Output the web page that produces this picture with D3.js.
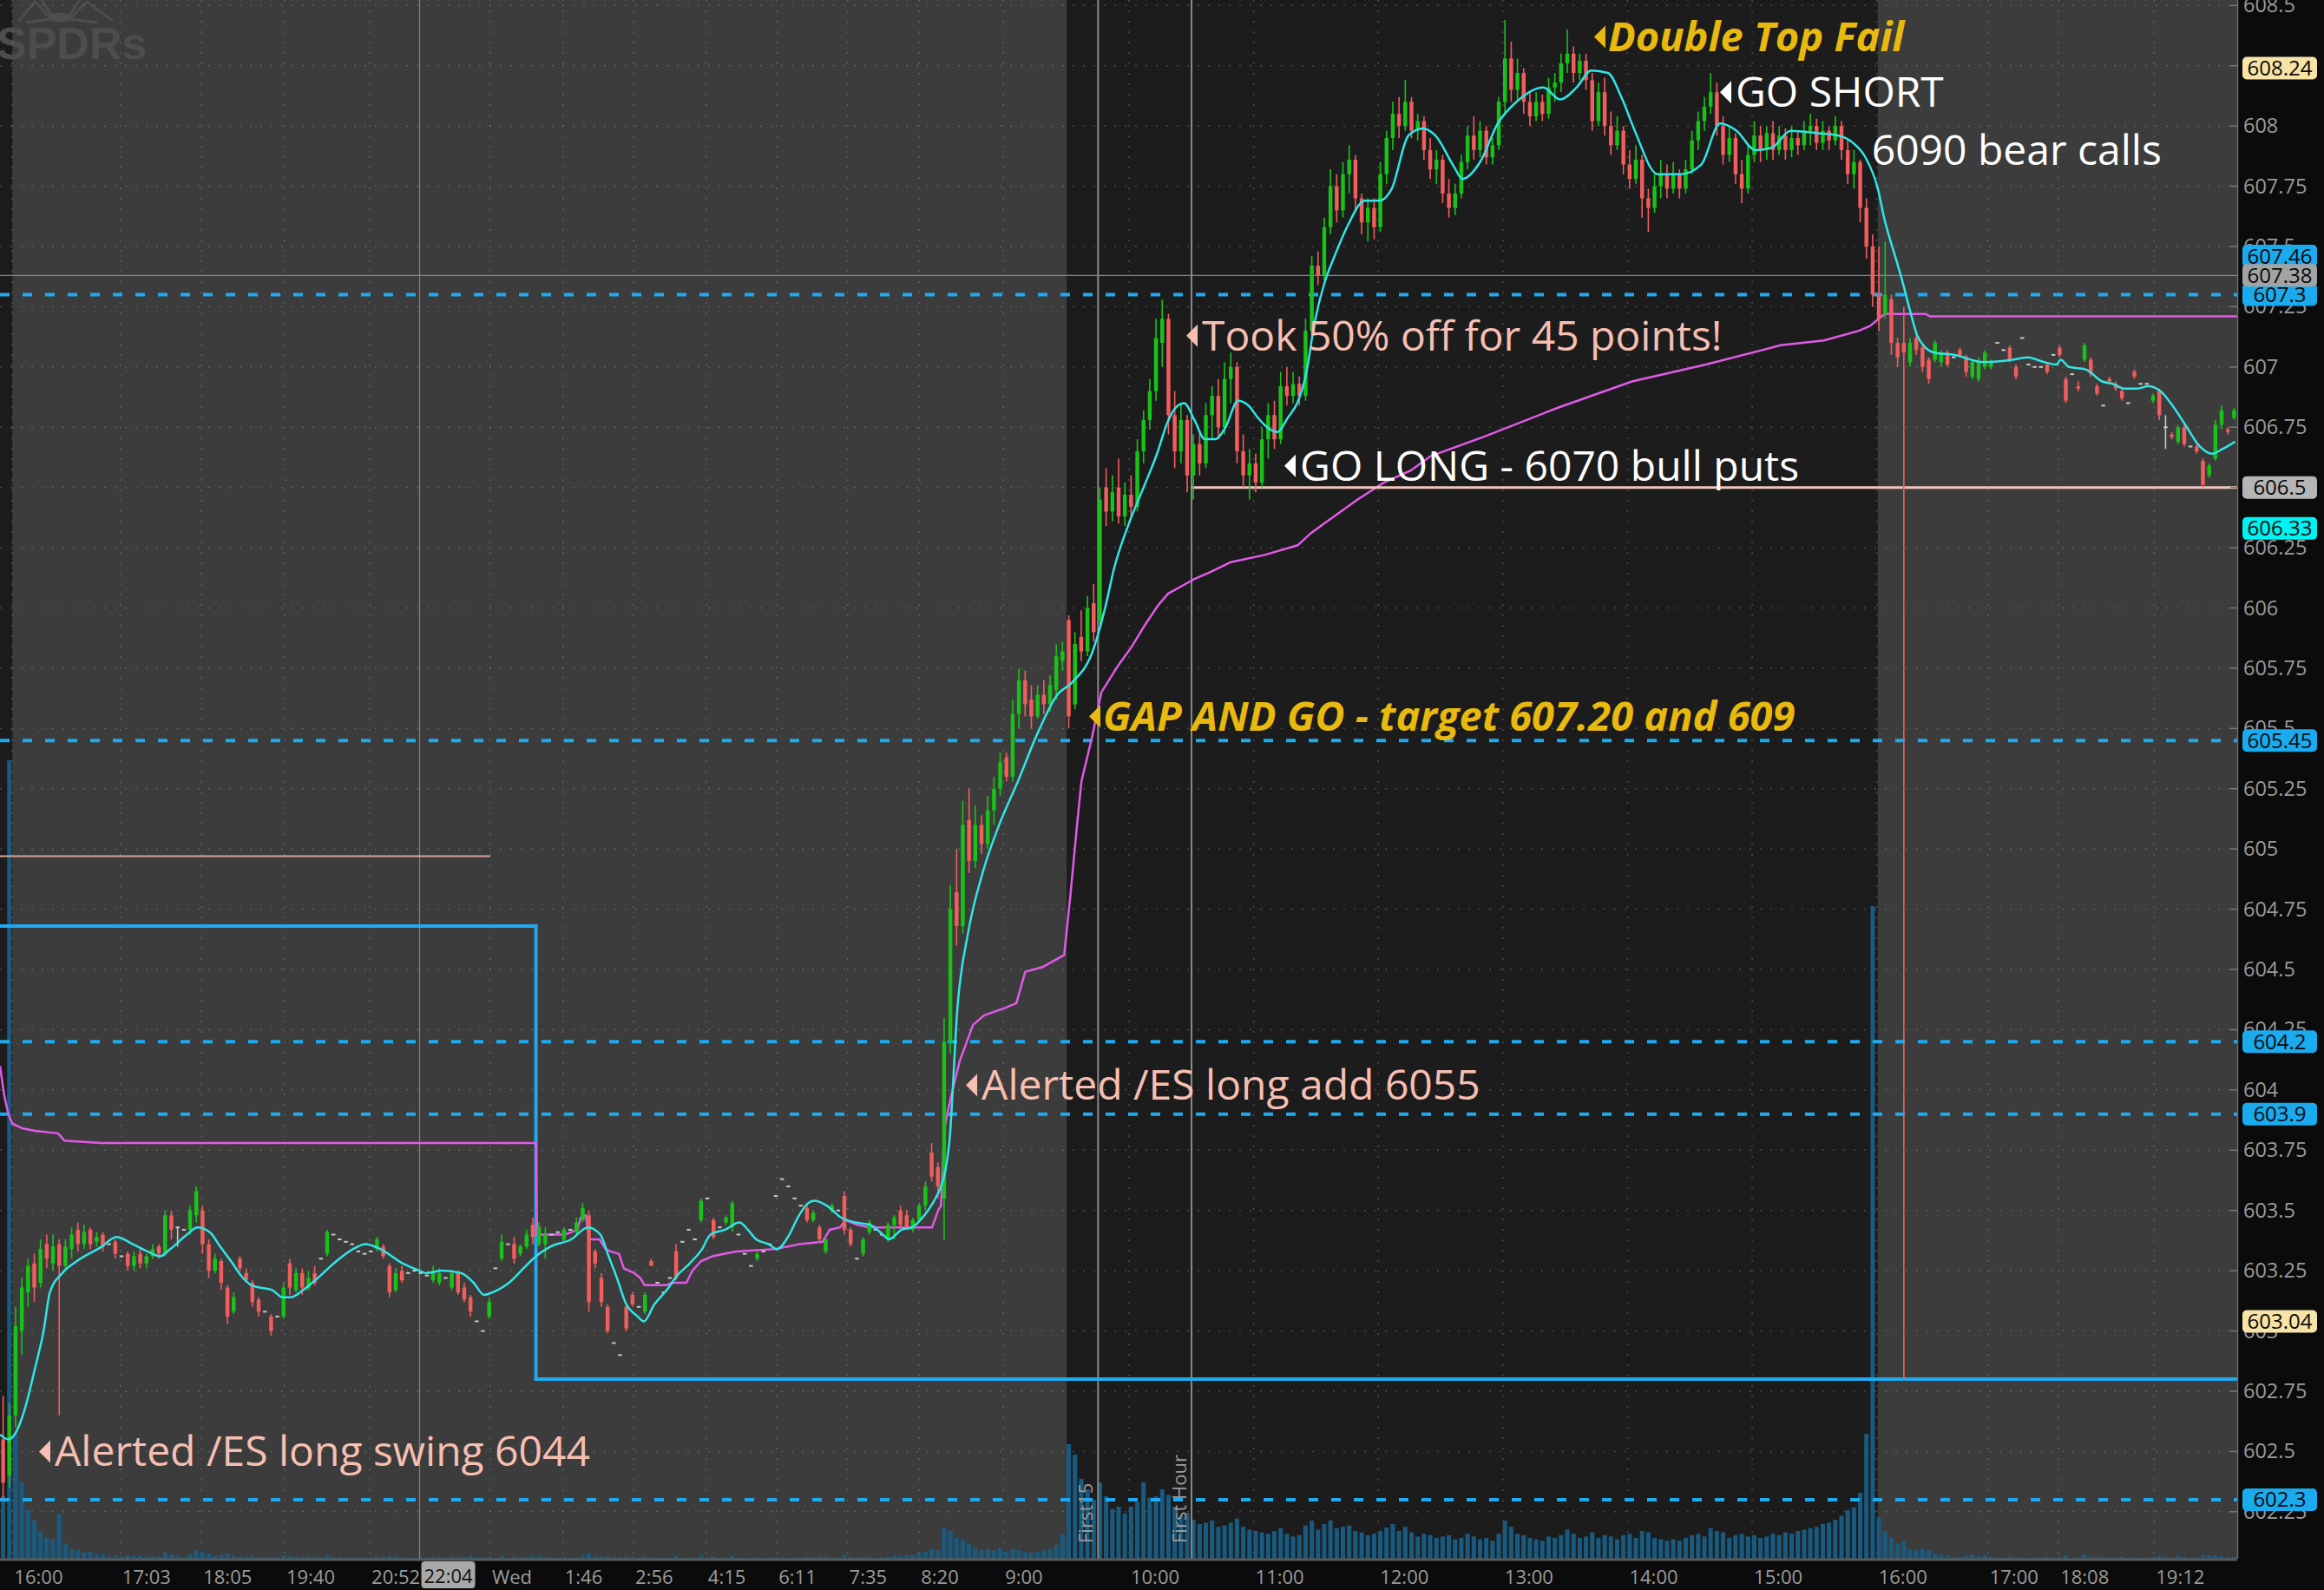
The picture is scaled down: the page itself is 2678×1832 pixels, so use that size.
<!DOCTYPE html>
<html>
<head>
<meta charset="utf-8">
<script src="https://cdn.jsdelivr.net/npm/d3@7"></script>
<style>
body { margin: 0; background: #0b0b0b; }
svg { display: block; font-family: 'Open Sans', 'Noto Sans', sans-serif; }
</style>
</head>
<body>
<svg></svg>
<script>
// slots = bar positions on the compressed time axis (1 slot = one 1-min bar)
let barStep = 3;
let eveningStart = -6, nightStart = 255, rthStart = 507, afterStart = 897;

// [open, high, low, close, volume]
let eveningBars = [
    [602.55,602.73,602.3,602.37,90],[602.4,602.7,602.35,602.65,1150],[602.65,603.1,602.6,603.02,180],[603.0,603.22,602.9,603.18,110],
    [603.16,603.3,603.1,603.27,70],[603.28,603.32,603.12,603.18,55],[603.2,603.38,603.18,603.34,40],[603.36,603.4,603.26,603.3,30],
    [603.28,603.4,603.25,603.35,28],[603.36,603.38,602.65,603.27,65],[603.27,603.38,603.25,603.35,22],[603.34,603.43,603.3,603.4,14],
    [603.42,603.45,603.33,603.36,12],[603.36,603.44,603.34,603.41,9],[603.42,603.43,603.34,603.36,10],[603.37,603.41,603.35,603.39,6],
    [603.4,603.41,603.33,603.35,7],[603.36,603.36,603.36,603.36,3],[603.37,603.38,603.3,603.32,5],[603.31,603.31,603.31,603.31,3],
    [603.32,603.33,603.25,603.27,5],[603.27,603.33,603.25,603.31,4],[603.32,603.35,603.26,603.28,4],[603.28,603.32,603.26,603.31,3],
    [603.31,603.36,603.3,603.34,4],[603.35,603.36,603.3,603.32,3],[603.32,603.5,603.31,603.48,9],[603.48,603.5,603.38,603.42,6],
    [603.43,603.43,603.35,603.43,4],[603.42,603.42,603.42,603.42,2],[603.42,603.52,603.4,603.5,6],[603.48,603.6,603.45,603.58,12],
    [603.5,603.52,603.32,603.36,9],[603.36,603.38,603.22,603.25,7],[603.25,603.32,603.24,603.3,4],[603.29,603.3,603.17,603.2,5],
    [603.18,603.19,603.03,603.06,7],[603.08,603.16,603.07,603.14,4],[603.3,603.31,603.25,603.26,3],[603.24,603.26,603.2,603.21,3],
    [603.2,603.21,603.1,603.12,4],[603.13,603.14,603.06,603.08,3],[603.08,603.08,603.08,603.08,2],[603.06,603.07,602.98,603.0,3],
    [603.06,603.06,603.06,603.06,2],[603.06,603.2,603.05,603.18,4],[603.28,603.3,603.15,603.18,4],[603.17,603.26,603.16,603.24,3],
    [603.24,603.26,603.15,603.18,3],[603.18,603.25,603.17,603.22,3],[603.24,603.27,603.19,603.2,3],[603.3,603.3,603.3,603.3,2],
    [603.32,603.42,603.31,603.41,5],[603.4,603.4,603.4,603.4,2],[603.38,603.38,603.38,603.38,2],[603.37,603.37,603.37,603.37,1],
    [603.36,603.36,603.36,603.36,2],[603.33,603.33,603.33,603.33,1],[603.32,603.32,603.32,603.32,2],[603.33,603.33,603.33,603.33,1],
    [603.34,603.39,603.33,603.38,3],[603.35,603.36,603.3,603.31,3],[603.27,603.28,603.14,603.16,4],[603.17,603.26,603.16,603.24,3],
    [603.25,603.27,603.2,603.21,2],[603.24,603.24,603.24,603.24,1],[603.25,603.25,603.25,603.25,1],[603.24,603.24,603.24,603.24,2],
    [603.23,603.23,603.23,603.23,1],[603.21,603.27,603.2,603.25,3],[603.2,603.26,603.19,603.24,3],[603.22,603.22,603.22,603.22,1],
    [603.18,603.25,603.17,603.24,3],[603.24,603.25,603.15,603.16,3],[603.18,603.2,603.12,603.13,3],[603.14,603.15,603.06,603.08,4],
    [603.04,603.04,603.04,603.04,2],[603.0,603.0,603.0,603.0,2],[603.06,603.14,603.05,603.12,3],[603.26,603.26,603.26,603.26,1],
    [603.3,603.4,603.29,603.37,4],[603.36,603.36,603.36,603.36,1],[603.36,603.39,603.28,603.3,3],[603.32,603.36,603.31,603.35,2],
    [603.35,603.42,603.34,603.4,3],[603.44,603.47,603.36,603.39,4],[603.36,603.45,603.35,603.43,4]
];

let nightBars = [
    [603.36,603.43,603.3,603.4,3],[603.4,603.4,603.4,603.4,2],[603.41,603.41,603.41,603.41,1],[603.38,603.43,603.37,603.42,2],
    [603.42,603.42,603.42,603.42,1],[603.41,603.47,603.4,603.45,2],[603.46,603.53,603.45,603.51,4],[603.48,603.5,603.08,603.12,8],
    [603.33,603.34,603.26,603.28,3],[603.22,603.24,603.1,603.12,3],[603.1,603.11,602.99,603.0,4],[602.95,602.95,602.95,602.95,2],
    [602.9,602.9,602.9,602.9,2],[603.1,603.11,603.0,603.01,3],[603.15,603.16,603.1,603.11,2],[603.1,603.1,603.1,603.1,1],
    [603.08,603.16,603.07,603.15,3],[603.29,603.3,603.27,603.27,2],[603.2,603.2,603.2,603.2,1],[603.16,603.16,603.16,603.16,1],
    [603.22,603.22,603.22,603.22,1],[603.33,603.36,603.21,603.22,4],[603.37,603.37,603.37,603.37,1],[603.42,603.42,603.42,603.42,2],
    [603.38,603.38,603.38,603.38,1],[603.46,603.55,603.45,603.54,4],[603.55,603.55,603.55,603.55,1],[603.46,603.47,603.38,603.39,3],
    [603.43,603.43,603.43,603.43,1],[603.45,603.48,603.44,603.47,2],[603.43,603.54,603.41,603.53,4],[603.4,603.4,603.4,603.4,1],
    [603.32,603.32,603.32,603.32,1],[603.27,603.27,603.27,603.27,1],[603.3,603.33,603.29,603.32,2],[603.33,603.33,603.33,603.33,1],
    [603.36,603.36,603.36,603.36,1],[603.56,603.56,603.56,603.56,2],[603.63,603.63,603.63,603.63,2],[603.6,603.6,603.6,603.6,1],
    [603.55,603.55,603.55,603.55,2],[603.52,603.52,603.52,603.52,1],[603.51,603.52,603.45,603.46,3],[603.46,603.5,603.45,603.49,2],
    [603.43,603.44,603.37,603.38,3],[603.33,603.39,603.32,603.38,3],[603.5,603.53,603.49,603.52,2],[603.5,603.5,603.5,603.5,1],
    [603.56,603.58,603.4,603.42,5],[603.42,603.43,603.35,603.36,3],[603.3,603.3,603.3,603.3,2],[603.32,603.39,603.31,603.38,3],
    [603.41,603.46,603.4,603.45,3],[603.42,603.42,603.42,603.42,1],[603.4,603.4,603.4,603.4,2],[603.38,603.45,603.37,603.44,3],
    [603.44,603.48,603.38,603.47,4],[603.5,603.52,603.43,603.44,4],[603.48,603.5,603.42,603.43,5],[603.42,603.47,603.41,603.46,5],
    [603.46,603.53,603.45,603.52,8],[603.52,603.62,603.5,603.6,10],[603.74,603.78,603.62,603.64,14],[603.68,603.7,603.55,603.6,12],
    [603.55,604.3,603.38,604.2,45],[604.2,604.85,604.15,604.75,40],[604.82,605.0,604.6,604.68,30],[604.68,605.2,604.65,605.1,28],
    [605.12,605.25,604.9,604.95,22],[604.95,605.18,604.92,605.1,16],[605.1,605.14,604.98,605.02,12],[605.02,605.22,605.0,605.16,14],
    [605.16,605.3,605.1,605.25,12],[605.25,605.4,605.22,605.36,15],[605.38,605.4,605.28,605.3,10],[605.3,605.62,605.28,605.56,14],
    [605.56,605.75,605.5,605.7,12],[605.7,605.74,605.55,605.6,10],[605.62,605.68,605.5,605.55,9],[605.55,605.68,605.54,605.64,10],
    [605.64,605.7,605.56,605.6,12],[605.6,605.72,605.57,605.68,14],[605.66,605.85,605.62,605.8,20],[605.78,605.86,605.74,605.82,35]
];

let rthBars = [
    [605.95,605.97,605.5,605.55,165],[605.6,605.9,605.58,605.85,150],[605.88,605.99,605.78,605.82,115],[605.82,606.05,605.8,606.0,100],
    [606.02,606.1,605.86,605.9,85],[605.95,606.5,605.93,606.45,110],[606.5,606.58,606.34,606.4,90],[606.4,606.55,606.36,606.48,72],
    [606.5,606.62,606.35,606.38,75],[606.38,606.52,606.34,606.47,65],[606.47,606.55,606.38,606.42,75],[606.42,606.7,606.4,606.65,82],
    [606.65,606.82,606.6,606.78,110],[606.78,606.95,606.74,606.9,88],[606.9,607.2,606.86,607.12,90],[607.1,607.28,607.0,607.2,100],
    [607.2,607.22,606.72,606.8,92],[606.8,606.9,606.58,606.65,75],[606.65,606.85,606.6,606.78,62],[606.78,606.8,606.48,606.55,66],
    [606.55,606.72,606.45,606.68,56],[606.68,606.74,606.55,606.6,50],[606.6,606.85,606.58,606.8,52],[606.8,606.92,606.7,606.88,55],
    [606.88,606.95,606.7,606.75,46],[606.75,607.02,606.72,606.95,48],[606.95,607.06,606.85,607.0,52],[607.0,607.02,606.6,606.65,58],
    [606.65,606.72,606.5,606.55,46],[606.55,606.66,606.45,606.6,42],[606.6,606.64,606.48,606.52,40],[606.52,606.75,606.5,606.7,38],
    [606.7,606.85,606.62,606.8,36],[606.8,606.86,606.66,606.7,40],[606.7,606.98,606.68,606.92,44],[606.92,607.0,606.84,606.88,36],
    [606.88,606.98,606.85,606.93,32],[606.93,606.96,606.84,606.88,34],[606.88,607.2,606.86,607.15,48],[607.15,607.46,607.12,607.42,55],
    [607.42,607.48,607.34,607.38,42],[607.38,607.62,607.36,607.58,50],[607.58,607.82,607.55,607.75,55],[607.75,607.8,607.6,607.65,44],
    [607.65,607.85,607.62,607.8,46],[607.8,607.92,607.72,607.86,48],[607.86,607.88,607.65,607.7,40],[607.7,607.72,607.55,607.6,38],
    [607.6,607.7,607.52,607.66,34],[607.66,607.7,607.53,607.58,36],[607.58,607.85,607.56,607.8,40],[607.8,607.98,607.76,607.95,45],
    [607.95,608.1,607.9,608.05,50],[608.05,608.12,607.95,608.0,40],[608.0,608.19,607.98,608.1,46],[608.1,608.12,607.95,607.98,38],
    [607.98,608.05,607.94,608.02,32],[608.02,608.04,607.86,607.9,36],[607.9,607.95,607.78,607.82,34],[607.82,607.9,607.76,607.86,30],
    [607.86,607.88,607.68,607.72,32],[607.72,607.78,607.62,607.66,34],[607.66,607.76,607.63,607.72,28],[607.72,607.88,607.7,607.85,30],
    [607.85,608.0,607.82,607.96,36],[607.96,608.04,607.86,607.9,32],[607.9,608.02,607.87,607.98,28],[607.98,608.0,607.84,607.87,30],
    [607.87,607.95,607.84,607.92,26],[607.92,608.12,607.9,608.1,36],[608.1,608.44,608.05,608.28,55],[608.28,608.35,608.1,608.15,46],
    [608.15,608.28,608.1,608.22,36],[608.22,608.24,608.05,608.1,34],[608.1,608.14,608.0,608.04,30],[608.04,608.14,608.02,608.1,28],
    [608.1,608.13,608.02,608.05,26],[608.05,608.2,608.03,608.16,32],[608.16,608.22,608.1,608.18,30],[608.18,608.3,608.14,608.26,34],
    [608.26,608.4,608.22,608.3,42],[608.3,608.33,608.18,608.22,36],[608.22,608.3,608.19,608.27,30],[608.27,608.3,608.15,608.19,32],
    [608.19,608.22,607.98,608.02,38],[608.02,608.18,608.0,608.14,30],[608.14,608.2,607.96,608.0,34],[608.0,608.06,607.88,607.92,32],
    [607.92,608.04,607.9,607.98,28],[607.98,608.0,607.8,607.84,34],[607.84,607.9,607.74,607.78,36],[607.78,607.92,607.76,607.86,30],
    [607.86,607.88,607.62,607.7,40],[607.7,607.74,607.56,607.66,38],[607.66,607.8,607.64,607.75,30],[607.75,607.86,607.7,607.8,28],
    [607.8,607.84,607.7,607.74,26],[607.74,607.85,607.72,607.8,28],[607.8,607.82,607.7,607.74,26],[607.74,607.86,607.72,607.82,30],
    [607.82,607.98,607.8,607.94,34],[607.94,608.06,607.9,608.02,36],[608.02,608.12,607.98,608.08,32],[608.08,608.22,608.05,608.14,44],
    [608.14,608.18,607.96,608.0,40],[608.0,608.04,607.84,607.88,38],[607.88,608.0,607.85,607.95,30],[607.95,607.97,607.76,607.8,34],
    [607.8,607.86,607.68,607.74,36],[607.74,607.92,607.72,607.88,32],[607.88,608.02,607.85,607.96,34],[607.96,608.0,607.85,607.9,30],
    [607.9,608.0,607.86,607.97,32],[607.97,608.02,607.86,607.9,36],[607.9,608.0,607.88,607.96,34],[607.96,607.99,607.86,607.9,38],
    [607.9,608.0,607.87,607.95,36],[607.95,607.98,607.88,607.92,40],[607.92,608.02,607.9,607.98,42],[607.98,608.05,607.92,608.0,44],
    [608.0,608.03,607.9,607.93,46],[607.93,608.02,607.9,607.98,50],[607.98,608.0,607.9,607.94,52],[607.94,608.04,607.92,608.0,56],
    [608.0,608.02,607.86,607.9,62],[607.9,607.94,607.76,607.8,70],[607.8,607.9,607.74,607.85,74],[607.85,607.86,607.6,607.66,95],
    [607.66,607.7,607.45,607.5,180],[607.5,607.55,607.25,607.3,940]
];

let afterBars = [
    [607.3,607.5,607.15,607.2,60],[607.22,607.52,607.2,607.3,40],[607.28,607.3,607.05,607.1,30],[607.1,607.12,607.0,607.04,22],
    [607.1,607.25,602.8,607.06,25],[607.02,607.12,607.0,607.1,14],[607.12,607.14,607.05,607.07,12],[607.08,607.1,606.98,607.0,14],
    [607.03,607.04,606.93,606.95,12],[607.03,607.11,607.02,607.1,8],[607.02,607.07,607.0,607.06,6],[607.06,607.07,607.0,607.01,5],
    [607.04,607.04,607.04,607.04,2],[607.07,607.08,607.04,607.05,3],[607.04,607.05,606.96,606.98,4],[606.96,607.03,606.95,607.02,6],
    [606.95,607.04,606.94,607.02,4],[607.0,607.07,606.99,607.06,5],[607.0,607.03,606.99,607.02,3],[607.1,607.1,607.1,607.1,2],
    [607.07,607.07,607.07,607.07,1],[607.08,607.09,607.02,607.03,3],[607.0,607.01,606.95,606.96,2],[607.12,607.12,607.12,607.12,1],
    [607.01,607.01,607.01,607.01,1],[607.0,607.0,607.0,607.0,2],[607.0,607.0,607.0,607.0,1],[607.01,607.02,606.97,606.98,3],
    [607.05,607.05,607.05,607.05,1],[607.08,607.09,607.04,607.05,3],[606.95,606.96,606.85,606.86,5],[606.97,606.97,606.97,606.97,1],
    [606.92,606.94,606.9,606.91,2],[607.03,607.1,607.02,607.09,6],[607.03,607.04,606.96,606.97,3],[606.92,606.93,606.88,606.89,3],
    [606.84,606.84,606.84,606.84,2],[606.95,606.96,606.93,606.94,2],[606.93,606.94,606.9,606.91,2],[606.9,606.91,606.86,606.87,3],
    [606.85,606.85,606.85,606.85,1],[606.98,606.99,606.95,606.96,2],[606.93,606.93,606.93,606.93,1],[606.93,606.93,606.93,606.93,1],
    [606.86,606.89,606.85,606.88,3],[606.9,606.91,606.78,606.8,4],[606.75,606.8,606.66,606.75,3],[606.72,606.73,606.7,606.71,2],
    [606.69,606.76,606.68,606.75,4],[606.75,606.76,606.67,606.68,3],[606.67,606.67,606.67,606.67,1],[606.67,606.68,606.64,606.65,2],
    [606.61,606.62,606.5,606.51,5],[606.55,606.6,606.54,606.59,4],[606.62,606.78,606.61,606.76,5],[606.76,606.84,606.74,606.82,4],
    [606.74,606.75,606.72,606.73,2],[606.79,606.83,606.78,606.82,3]
];

// study lines: [slot, price]
let emaPoints = [
    [-6,602.57],[-2,602.55],[1,602.57],[5,602.65],[11,602.85],[15,603.0],[18,603.16],[24,603.24],[31,603.29],[43,603.35],
    [50,603.39],[58,603.36],[65,603.33],[71,603.31],[76,603.34],[84,603.4],[89,603.43],[95,603.41],[100,603.35],[106,603.28],
    [110,603.23],[115,603.19],[119,603.18],[125,603.17],[130,603.14],[134,603.14],[140,603.17],[147,603.22],[156,603.29],[164,603.34],
    [170,603.36],[177,603.34],[188,603.28],[196,603.25],[199,603.24],[207,603.25],[216,603.24],[222,603.2],[227,603.15],[231,603.16],
    [239,603.2],[246,603.26],[252,603.31],[259,603.35],[269,603.38],[277,603.43],[283,603.4],[287,603.31],[291,603.22],[295,603.12],
    [301,603.06],[304,603.04],[309,603.11],[315,603.17],[320,603.23],[326,603.28],[332,603.34],[336,603.4],[343,603.42],[350,603.45],
    [354,603.42],[358,603.38],[364,603.36],[368,603.34],[374,603.4],[378,603.47],[383,603.53],[386,603.54],[392,603.52],[399,603.47],
    [406,603.45],[413,603.44],[419,603.4],[422,603.38],[428,603.42],[433,603.43],[439,603.48],[443,603.53],[447,603.6],[449,603.66],
    [451,603.78],[455,604.35],[460,604.65],[467,604.9],[475,605.1],[484,605.28],[494,605.49],[503,605.64],[510,605.69],[520,605.82],
    [526,606.0],[530.5,606.17],[537,606.34],[545,606.51],[551,606.64],[556,606.77],[561,606.84],[564,606.85],[569,606.78],[574,606.7],
    [579,606.7],[584,606.75],[590,606.86],[595,606.84],[599.5,606.79],[604,606.75],[609,606.73],[614,606.79],[619,606.86],[622.5,606.96],
    [627,607.19],[632,607.36],[636,607.45],[643,607.59],[651,607.69],[658,607.69],[664,607.74],[672,607.96],[679,607.99],[685,607.96],
    [694,607.83],[698,607.78],[706.5,607.85],[715,608.01],[724,608.1],[737,608.16],[745,608.11],[753,608.16],[760,608.23],[768,608.22],
    [775,608.11],[781,607.98],[792,607.8],[803,607.8],[813,607.84],[822,608.01],[830,607.98],[839,607.9],[847,607.91],[856,607.98],
    [869,607.97],[879,607.96],[886,607.93],[892,607.87],[898,607.74],[901,607.62],[907,607.44],[910,607.35],[913,607.25],[917,607.13],
    [921,607.08],[925,607.06],[935,607.05],[949,607.02],[963,607.03],[970,607.04],[978,607.02],[984,607.01],[986,607.03],[990,607.0],
    [998,606.99],[1006,606.94],[1011,606.93],[1017,606.91],[1023,606.91],[1028,606.92],[1034,606.9],[1039,606.85],[1046,606.76],[1053,606.67],
    [1059,606.64],[1064,606.66],[1070,606.69]
];

let vwapPoints = [
    [-6,604.1],[-4,603.98],[-2,603.9],[0,603.86],[5,603.84],[11,603.83],[22,603.82],[25,603.79],[43,603.78],[252,603.78],
    [252.5,603.4],[266,603.4],[272,603.42],[273.5,603.47],[276,603.48],[277.6,603.38],[282.6,603.38],[285.5,603.34],[288,603.33],[292,603.32],
    [294.3,603.26],[299.3,603.24],[302.2,603.22],[304.3,603.19],[314.8,603.19],[317.3,603.2],[324.4,603.2],[327.3,603.25],[331.5,603.29],[337,603.31],
    [342.4,603.32],[348.2,603.33],[367.5,603.34],[378.8,603.36],[390,603.37],[393.4,603.42],[398.4,603.43],[401,603.46],[406.8,603.44],[412.2,603.43],
    [442.7,603.43],[445.6,603.5],[447,603.52],[448.6,603.84],[452,603.98],[456,604.12],[462.4,604.27],[467.8,604.31],[477.8,604.34],[483.3,604.36],
    [487.5,604.49],[495.8,604.51],[506.3,604.56],[509.2,604.8],[512.5,605.1],[514.6,605.28],[519.6,605.46],[524.2,605.65],[532.2,605.76],[538.9,605.84],
    [545.2,605.93],[551.4,606.01],[556.4,606.06],[562.7,606.09],[569,606.12],[576.9,606.15],[586.5,606.19],[602.8,606.22],[618.7,606.26],[625,606.31],
    [634.6,606.37],[647.6,606.45],[660.1,606.52],[673.1,606.57],[682.7,606.63],[708.2,606.71],[743.7,606.83],[779.7,606.94],[815.2,607.01],[851.2,607.09],
    [872.1,607.11],[880.4,607.13],[888.8,607.15],[894.2,607.17],[898.4,607.2],[901.3,607.22],[921,607.22],[923.1,607.21],[1071,607.21]
];

let rthSessions = [[-6, 0], [507.5, 898]];
let timeTicks = [[0,'16:00'],[52,'17:03'],[91,'18:05'],[131,'19:40'],[172,'20:52'],[230,'Wed'],[265,'1:46'],[299,'2:56'],
    [334,'4:15'],[368,'6:11'],[402,'7:35'],[436.5,'8:20'],[477,'9:00'],[537.5,'10:00'],[597.5,'11:00'],[657.5,'12:00'],
    [717.5,'13:00'],[777.5,'14:00'],[837.5,'15:00'],[897.5,'16:00'],[951,'17:00'],[985,'18:08'],[1031,'19:12']];
let priceTicks = [602.25,602.5,602.75,603,603.25,603.5,603.75,604,604.25,604.5,604.75,605,605.25,605.5,
    605.75,606,606.25,606.5,606.75,607,607.25,607.5,607.75,608,608.25,608.5];
let markers = [[522.6, 'First15'], [567.6, 'First Hour']];

let alertLevels = [607.3, 605.45, 604.2, 603.9, 602.3];
let boxHigh = 604.68, boxLow = 602.80, boxSplit = 252;
let eveningLevel = 604.97, eveningLevelEnd = 230;
let goLongLevel = 606.5, goLongStart = 567.6;
let crossSlot = 196, crossPrice = 607.38, crossTime = '22:04';

let tagPrices = [607.3, 607.46, 608.24, 606.5, 606.33, 605.45, 604.2, 603.9, 603.04, 602.3, 607.38];
let tagFills = ['#1aabef', '#1aabef', '#f6e3a5', '#b5b5b5', '#00f2f2', '#1aabef', '#1aabef', '#1aabef', '#f6e3a5', '#1aabef', '#a3a3a3'];

let noteTexts = ['Double Top Fail', 'GO SHORT', '6090 bear calls', 'Took 50% off for 45 points!',
    'GO LONG - 6070 bull puts', 'GAP AND GO - target 607.20 and 609', 'Alerted /ES long add 6055', 'Alerted /ES long swing 6044'];
let noteSlots = [761.4, 822, 895, 565.1, 612.3, 518.3, 459, 12.8];
let notePrices = [608.37, 608.14, 607.90, 607.13, 606.59, 605.55, 604.02, 602.50];
let noteKinds = ['gold', 'white', 'plain', 'salmon', 'white', 'gold', 'salmon', 'salmon'];

let width = 2678;
let height = 1832;
let plotRight = 2578;
let plotBottom = 1796;

let svg = d3.select('svg')
    .attr('width', width)
    .attr('height', height)

let x = d3.scaleLinear().domain([-6, 1071]).range([0, plotRight]);
let y = d3.scaleLinear().domain([602.25, 608.5]).range([1741.8, 6.3]);
let yVol = d3.scaleLinear().domain([0, 1000]).range([plotBottom, plotBottom - 800]);
let slotW = x(1) - x(0);

// backgrounds
svg.append('rect').attr('width', width).attr('height', height).attr('fill', '#0b0b0b');
svg.append('rect').attr('width', plotRight).attr('height', plotBottom).attr('fill', '#3c3c3c');
svg.append('g').selectAll('rect')
    .data(rthSessions)
    .enter()
    .append('rect')
    .attr('x', d => x(d[0]))
    .attr('width', d => x(d[1]) - x(d[0]))
    .attr('y', 0)
    .attr('height', plotBottom)
    .attr('fill', '#1c1c1c')

// watermark
let logo = svg.append('g').attr('fill', 'none').attr('stroke', '#4d4d4d').attr('stroke-width', 3);
logo.append('ellipse').attr('cx', 70).attr('cy', 20).attr('rx', 12).attr('ry', 4).attr('fill', '#4d4d4d');
logo.append('path').attr('d', 'M58,20 L40,2 L22,24 M60,18 L48,0 M82,20 L100,2 L130,24 M80,18 L92,0 M58,22 L30,26 M82,22 L112,26');
svg.append('text')
    .attr('x', -4).attr('y', 68)
    .attr('font-family', "'Liberation Sans', Arial, sans-serif")
    .attr('font-weight', 700)
    .attr('font-size', 52)
    .attr('fill', '#4d4d4d')
    .text('SPDRs')

// dotted grid
let grid = svg.append('g')
    .attr('stroke', 'rgba(170,170,170,0.32)')
    .attr('stroke-width', 1.5)
    .attr('stroke-dasharray', '2,10')
grid.selectAll('.gh').data(priceTicks).enter().append('line')
    .attr('x1', 0).attr('x2', plotRight)
    .attr('y1', d => y(d)).attr('y2', d => y(d))
grid.selectAll('.gv').data(timeTicks).enter().append('line')
    .attr('x1', d => x(d[0])).attr('x2', d => x(d[0]))
    .attr('y1', 0).attr('y2', plotBottom)

// flatten sessions into bars
let bars = [];
[[eveningStart, eveningBars], [nightStart, nightBars], [rthStart, rthBars], [afterStart, afterBars]].forEach(function (s) {
    s[1].forEach(function (b, i) {
        bars.push({slot: s[0] + i * barStep + barStep / 2, o: b[0], h: b[1], l: b[2], c: b[3], v: b[4]});
    });
});

// volume
svg.append('g').selectAll('rect')
    .data(bars)
    .enter()
    .append('rect')
    .attr('x', d => x(d.slot) - slotW * barStep * 0.35)
    .attr('width', slotW * barStep * 0.7)
    .attr('y', d => yVol(d.v))
    .attr('height', d => plotBottom - yVol(d.v))
    .attr('fill', '#195b80')

// crosshair
svg.append('line')
    .attr('x1', 0).attr('x2', plotRight)
    .attr('y1', y(crossPrice)).attr('y2', y(crossPrice))
    .attr('stroke', '#858585').attr('stroke-width', 1.2)
svg.append('line')
    .attr('x1', x(crossSlot)).attr('x2', x(crossSlot))
    .attr('y1', 0).attr('y2', plotBottom)
    .attr('stroke', '#858585').attr('stroke-width', 1.2)

// First15 / First Hour
let mk = svg.append('g').selectAll('g').data(markers).enter().append('g');
mk.append('line')
    .attr('x1', d => x(d[0])).attr('x2', d => x(d[0]))
    .attr('y1', 0).attr('y2', plotBottom)
    .attr('stroke', '#8a8a8a').attr('stroke-width', 2)
mk.append('text')
    .attr('transform', d => 'translate(' + (x(d[0]) - 6) + ',' + (plotBottom - 18) + ') rotate(-90)')
    .attr('font-size', 22)
    .attr('fill', '#9a9a9a')
    .text(d => d[1])

// evening level line
svg.append('line')
    .attr('x1', x(-6)).attr('x2', x(eveningLevelEnd))
    .attr('y1', y(eveningLevel)).attr('y2', y(eveningLevel))
    .attr('stroke', '#d9a39a').attr('stroke-width', 2)

// alert levels, dashed
svg.append('g').selectAll('line')
    .data(alertLevels)
    .enter()
    .append('line')
    .attr('x1', 0).attr('x2', plotRight)
    .attr('y1', d => y(d)).attr('y2', d => y(d))
    .attr('stroke', '#1eaaf0')
    .attr('stroke-width', 4)
    .attr('stroke-dasharray', '11,15')

// range box step line
let stepLine = d3.line().x(d => x(d[0])).y(d => y(d[1]));
svg.append('path')
    .attr('d', stepLine([[-6, boxHigh], [boxSplit, boxHigh], [boxSplit, boxLow], [1071, boxLow]]))
    .attr('fill', 'none')
    .attr('stroke', '#1eaaf0')
    .attr('stroke-width', 4)

// VWAP
svg.append('path')
    .attr('d', d3.line().x(d => x(d[0])).y(d => y(d[1]))(vwapPoints))
    .attr('fill', 'none')
    .attr('stroke', '#e25ae8')
    .attr('stroke-width', 2.5)

// GO LONG level
svg.append('line')
    .attr('x1', x(goLongStart)).attr('x2', plotRight)
    .attr('y1', y(goLongLevel)).attr('y2', y(goLongLevel))
    .attr('stroke', '#efc6be').attr('stroke-width', 3)

// candles
let bodyW = slotW * barStep * 0.62;
function barColor(d) {
    if (d.c > d.o) return '#19c219';
    if (d.c < d.o) return '#f25d5d';
    return '#c8c8c8';
}
let candle = svg.append('g').selectAll('g')
    .data(bars)
    .enter()
    .append('g')
candle.append('line')
    .attr('x1', d => x(d.slot)).attr('x2', d => x(d.slot))
    .attr('y1', d => y(d.h)).attr('y2', d => y(d.l))
    .attr('stroke', barColor)
    .attr('stroke-width', 1.6)
candle.append('rect')
    .attr('x', d => x(d.slot) - bodyW / 2)
    .attr('width', bodyW)
    .attr('y', d => y(Math.max(d.o, d.c)) - (d.o == d.c ? 1 : 0))
    .attr('height', d => Math.max(2, Math.abs(y(d.o) - y(d.c))))
    .attr('fill', barColor)

// EMA
svg.append('path')
    .attr('d', d3.line().x(d => x(d[0])).y(d => y(d[1])).curve(d3.curveMonotoneX)(emaPoints))
    .attr('fill', 'none')
    .attr('stroke', '#30e6e6')
    .attr('stroke-width', 2.5)

// notes
let noteColor = {gold: '#e8b90e', white: '#ffffff', plain: '#ffffff', salmon: '#f6bfb1'};
let notes = noteTexts.map((t, i) => ({text: t, slot: noteSlots[i], price: notePrices[i], kind: noteKinds[i]}));
let note = svg.append('g').selectAll('g')
    .data(notes)
    .enter()
    .append('g')
note.filter(d => d.kind != 'plain')
    .append('path')
    .attr('d', d => 'M' + x(d.slot) + ',' + y(d.price) + ' l13,-13 v26 z')
    .attr('fill', d => noteColor[d.kind])
note.append('text')
    .attr('x', d => d.kind == 'plain' ? x(d.slot) : x(d.slot) + (d.kind == 'gold' ? 16 : 18))
    .attr('y', d => y(d.price) + 17)
    .attr('font-size', d => d.kind == 'gold' ? 47 : 48)
    .attr('font-weight', d => d.kind == 'gold' ? 700 : 400)
    .attr('font-style', d => d.kind == 'gold' ? 'italic' : 'normal')
    .attr('fill', d => noteColor[d.kind])
    .text(d => d.text)

// price axis
svg.append('rect').attr('x', plotRight).attr('width', width - plotRight).attr('height', height).attr('fill', '#0b0b0b');
svg.append('line')
    .attr('x1', plotRight + 0.5).attr('x2', plotRight + 0.5)
    .attr('y1', 0).attr('y2', plotBottom)
    .attr('stroke', '#6a6a6a').attr('stroke-width', 1.5)
let pAxis = svg.append('g');
pAxis.selectAll('line').data(priceTicks).enter().append('line')
    .attr('x1', plotRight - 8).attr('x2', plotRight)
    .attr('y1', d => y(d)).attr('y2', d => y(d))
    .attr('stroke', '#7a7a7a').attr('stroke-width', 1.5)
pAxis.selectAll('text').data(priceTicks).enter().append('text')
    .attr('x', plotRight + 7)
    .attr('y', d => y(d) + 8)
    .attr('font-size', 23.5)
    .attr('fill', '#9a9a9a')
    .text(d => String(+d.toFixed(2)))

let tags = svg.append('g').selectAll('g')
    .data(tagPrices.map((p, i) => ({p: p, fill: tagFills[i]})))
    .enter()
    .append('g')
tags.append('rect')
    .attr('x', plotRight + 6)
    .attr('y', d => y(d.p) - 13)
    .attr('width', 86)
    .attr('height', 26)
    .attr('rx', 5)
    .attr('fill', d => d.fill)
tags.append('text')
    .attr('x', plotRight + 49)
    .attr('y', d => y(d.p) + 8.5)
    .attr('text-anchor', 'middle')
    .attr('font-size', 24)
    .attr('fill', '#0a0a0a')
    .text(d => String(d.p))

// time axis
svg.append('rect').attr('y', plotBottom).attr('width', width).attr('height', height - plotBottom).attr('fill', '#0b0b0b');
svg.append('line')
    .attr('x1', 0).attr('x2', plotRight)
    .attr('y1', plotBottom + 1).attr('y2', plotBottom + 1)
    .attr('stroke', '#5a5a5a').attr('stroke-width', 3)
svg.append('g').selectAll('text')
    .data(timeTicks)
    .enter()
    .append('text')
    .attr('x', d => x(d[0]) + 2)
    .attr('y', plotBottom + 29)
    .attr('font-size', 22)
    .attr('fill', '#9a9a9a')
    .text(d => d[1])
svg.append('rect')
    .attr('x', x(crossSlot) + 2).attr('y', plotBottom + 3)
    .attr('width', 62).attr('height', 31).attr('rx', 4)
    .attr('fill', '#a8a8a8')
svg.append('text')
    .attr('x', x(crossSlot) + 33).attr('y', plotBottom + 28)
    .attr('text-anchor', 'middle')
    .attr('font-size', 22)
    .attr('fill', '#111')
    .text(crossTime)
</script>
</body>
</html>
